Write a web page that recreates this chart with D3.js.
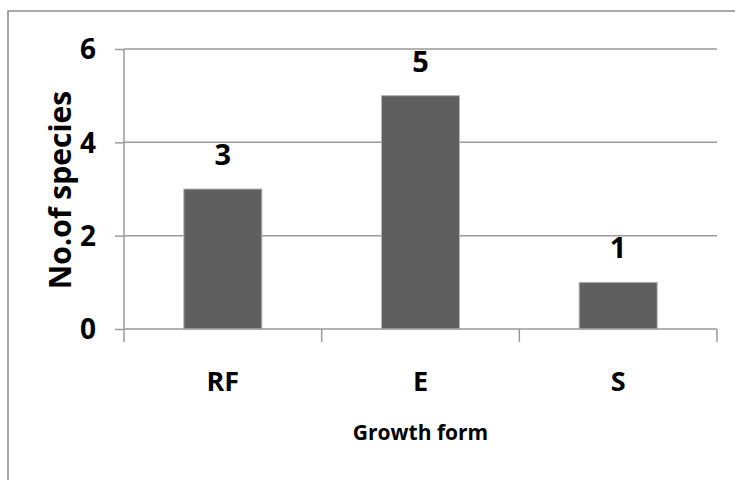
<!DOCTYPE html>
<html>
<head>
<meta charset="utf-8">
<script src="https://cdn.jsdelivr.net/npm/d3@7"></script>
<style>
  html, body { margin: 0; padding: 0; background: #fff; }
  svg { display: block; }
  text { font-family: "Open Sans", "Noto Sans", sans-serif; font-weight: 700; fill: #000; }
</style>
</head>
<body>
<svg id="chart" width="735" height="480"></svg>
<script>
// Growth form counts
const categories = ["RF", "E", "S"];
const speciesCounts = [3, 5, 1];
const yTicks = [0, 2, 4, 6];
const xTitle = "Growth form";
const yTitle = "No.of species";

const W = 735, H = 480;
const margin = { top: 49, right: 18, bottom: 151, left: 124 };
const innerW = W - margin.left - margin.right;
const innerH = H - margin.top - margin.bottom;

const svg = d3.select("#chart");

// outer chart frame (runs off the right and bottom edges)
svg.append("rect")
  .attr("x", 8).attr("y", 11)
  .attr("width", 740).attr("height", 480)
  .attr("fill", "none")
  .attr("stroke", "#8c8c8c")
  .attr("stroke-width", 1.5);

const g = svg.append("g").attr("transform", `translate(${margin.left},${margin.top})`);

const pi = 0.605;
const x = d3.scaleBand().domain(categories).range([0, innerW]).paddingInner(pi).paddingOuter(pi / 2);
const y = d3.scaleLinear().domain([0, 6]).range([innerH, 0]);

// horizontal gridlines
g.append("g")
  .selectAll("line")
  .data(yTicks.filter(t => t > 0))
  .join("line")
  .attr("x1", 0).attr("x2", innerW)
  .attr("y1", d => y(d)).attr("y2", d => y(d))
  .attr("stroke", "#9a9a9a")
  .attr("stroke-width", 1.5);

// bars
const data = categories.map((c, i) => ({ c, v: speciesCounts[i] }));
g.append("g")
  .selectAll("rect")
  .data(data)
  .join("rect")
  .attr("x", d => x(d.c))
  .attr("y", d => y(d.v))
  .attr("width", x.bandwidth())
  .attr("height", d => y(0) - y(d.v))
  .attr("fill", "#5f5f5f")
  .attr("stroke", "#b8b8b8")
  .attr("stroke-width", 1);

// value labels
g.append("g")
  .selectAll("text")
  .data(data)
  .join("text")
  .attr("x", d => x(d.c) + x.bandwidth() / 2)
  .attr("y", d => y(d.v) - 24)
  .attr("text-anchor", "middle")
  .attr("font-size", 29)
  .text(d => d.v);

// y axis
const yAxis = g.append("g")
  .call(d3.axisLeft(y).tickValues(yTicks).tickSize(9).tickPadding(19).tickFormat(d3.format("d")));
yAxis.select(".domain").attr("stroke", "#9a9a9a").attr("stroke-width", 1.5).attr("d", `M0,0V${innerH}`);
yAxis.selectAll(".tick line").attr("stroke", "#9a9a9a").attr("stroke-width", 1.5);
yAxis.selectAll(".tick text").attr("font-size", 28).attr("dy", "0.35em")
  .style("font-family", "'Open Sans', sans-serif").style("font-weight", 700).attr("fill", "#000");

// x axis with ticks at category boundaries
const xAxisG = g.append("g").attr("transform", `translate(0,${innerH})`);
xAxisG.append("line")
  .attr("x1", 0).attr("x2", innerW)
  .attr("stroke", "#9a9a9a").attr("stroke-width", 1.5);
const bounds = d3.range(categories.length + 1).map(i => i * x.step());
xAxisG.selectAll("line.tick")
  .data(bounds)
  .join("line")
  .attr("class", "tick")
  .attr("x1", d => d).attr("x2", d => d)
  .attr("y1", 0).attr("y2", 13)
  .attr("stroke", "#9a9a9a").attr("stroke-width", 1.5);
xAxisG.selectAll("text.cat")
  .data(categories)
  .join("text")
  .attr("class", "cat")
  .attr("x", d => x(d) + x.bandwidth() / 2)
  .attr("y", 62)
  .attr("text-anchor", "middle")
  .attr("font-size", 27)
  .text(d => d);

// axis titles
svg.append("text")
  .attr("x", margin.left + innerW / 2)
  .attr("y", 440)
  .attr("text-anchor", "middle")
  .attr("font-size", 21)
  .text(xTitle);

svg.append("text")
  .attr("transform", `translate(71,190) rotate(-90)`)
  .attr("text-anchor", "middle")
  .attr("font-size", 30)
  .text(yTitle);
</script>
</body>
</html>
